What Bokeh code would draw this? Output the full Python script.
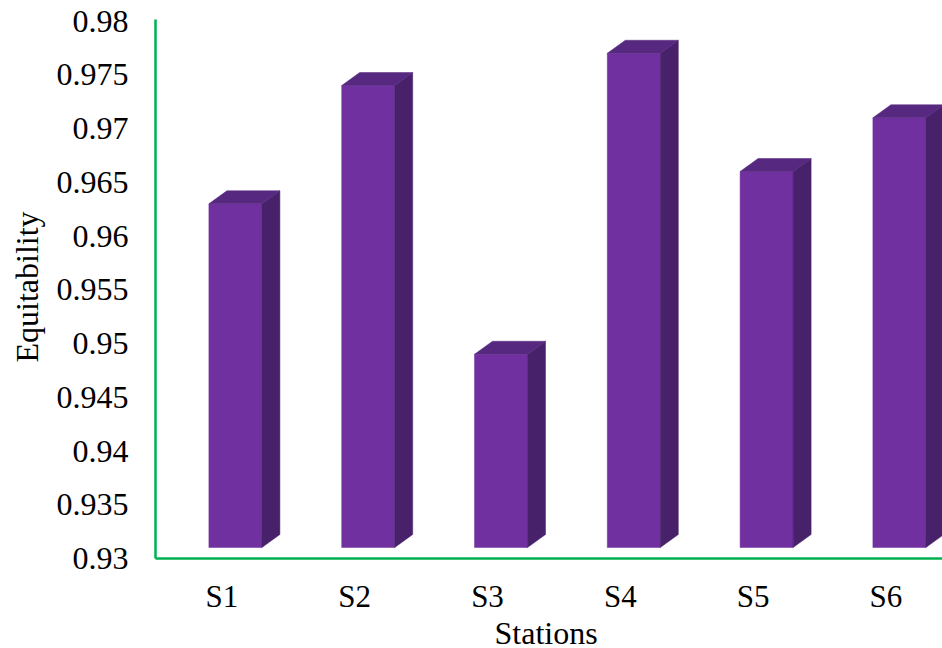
from bokeh.plotting import figure
from bokeh.models import Range1d, FixedTicker, Title
from bokeh.embed import file_html
from bokeh.resources import INLINE

stations = ["S1", "S2", "S3", "S4", "S5", "S6"]
equitability = [0.963, 0.974, 0.949, 0.977, 0.966, 0.971]
y_ticks = [0.93, 0.935, 0.94, 0.945, 0.95, 0.955, 0.96, 0.965, 0.97, 0.975, 0.98]
y_labels = ["0.93", "0.935", "0.94", "0.945", "0.95", "0.955", "0.96", "0.965", "0.97", "0.975", "0.98"]

FONT = "Liberation Serif"
FRONT, TOP, SIDE, GREEN = "#7030A0", "#57287F", "#47216A", "#00B050"
BASE = 0.93
SLOT_PX = 132.8
PX_Y = 537.5 / 0.05

def dx(px):
    return px / SLOT_PX

def dy(px):
    return px / PX_Y

p = figure(frame_width=787, frame_height=539, output_backend="svg", toolbar_location=None,
           x_range=Range1d(0, 787 / SLOT_PX), y_range=Range1d(BASE, BASE + dy(539)),
           min_border_left=155, min_border_top=19, min_border_right=0, min_border_bottom=90,
           background_fill_color="white", border_fill_color="white", outline_line_color=None)
p.grid.visible = False

centers = [i + 0.5 for i in range(len(stations))]
left = [c + dx(13.5 - 26.5) for c in centers]
right = [c + dx(13.5 + 26.5) for c in centers]
bottom = BASE + dy(11)
ox, oy = dx(18), dy(13)

p.quad(left=left, right=right, bottom=bottom, top=equitability, fill_color=FRONT, line_color=FRONT, line_width=0.5)
p.patches([[r, r + ox, r + ox, r] for r in right],
          [[bottom, bottom + oy, v + oy, v] for v in equitability],
          fill_color=SIDE, line_color=SIDE, line_width=0.5)
p.patches([[l, l + ox, r + ox, r] for l, r in zip(left, right)],
          [[v, v + oy, v + oy, v] for v in equitability],
          fill_color=TOP, line_color=TOP, line_width=0.5)

p.xaxis.ticker = FixedTicker(ticks=centers)
p.xaxis.major_label_overrides = dict(zip(centers, stations))
p.yaxis.ticker = FixedTicker(ticks=y_ticks)
p.yaxis.major_label_overrides = dict(zip(y_ticks, y_labels))

for ax in (p.xaxis[0], p.yaxis[0]):
    ax.axis_line_color = GREEN
    ax.axis_line_width = 2.5
    ax.major_tick_line_color = None
    ax.minor_tick_line_color = None
    ax.major_tick_in = 0
    ax.major_tick_out = 0
    ax.major_label_text_font = FONT
    ax.major_label_text_font_size = "32px"
    ax.major_label_text_color = "black"

p.xaxis.major_label_text_font_size = "31px"
p.xaxis.major_label_standoff = 20
p.yaxis.major_label_standoff = 27

p.add_layout(Title(text="Stations", align="left", offset=339, text_font=FONT, text_font_size="32px",
                   text_font_style="normal", text_color="black", standoff=-8), "below")
p.add_layout(Title(text="Equitability", align="left", offset=196, vertical_align="top", text_font=FONT,
                   text_font_size="32px", text_font_style="normal", text_color="black", standoff=14), "left")

open("out.html", "w").write(file_html(p, INLINE))
